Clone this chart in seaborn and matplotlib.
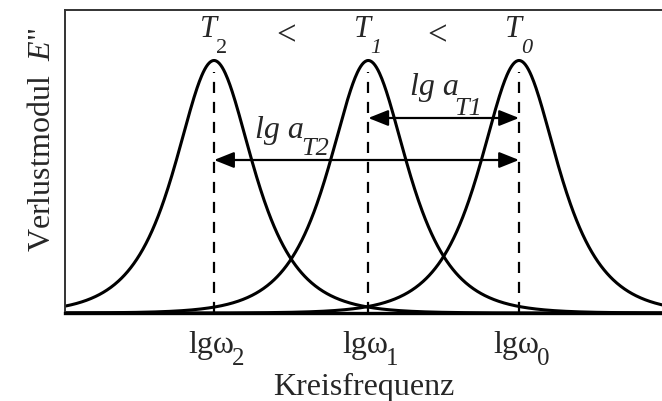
import numpy as np
import pandas as pd
import matplotlib
matplotlib.use("Agg")
import matplotlib.pyplot as plt
import seaborn as sns

# Loss peaks at three temperatures (position on lg ω axis, peak height)
temperatures = ["T0", "T1", "T2"]
peak_lgw = [13.1, 8.75, 4.3]
peak_height = [1.0, 1.0, 1.0]
tick_base = ["lgω", "lgω", "lgω"]
tick_sub = ["0", "1", "2"]
temp_sub = ["0", "1", "2"]
temp_sub_style = ["italic", "italic", "normal"]

sns.set_theme(style="white")
plt.rcParams["font.family"] = ["Liberation Serif", "DejaVu Serif"]
plt.rcParams["mathtext.fontset"] = "custom"
plt.rcParams["mathtext.rm"] = "Liberation Serif"
plt.rcParams["mathtext.it"] = "Liberation Serif:italic"

# Debye-type loss peak: E'' ~ sech(ln(ω τ))
lgw = np.linspace(0, 17.6, 800)
frames = []
for name, c, h in zip(temperatures, peak_lgw, peak_height):
    frames.append(pd.DataFrame({"lgw": lgw, "E2": h / np.cosh(lgw - c), "T": name}))
data = pd.concat(frames, ignore_index=True)

W, H = 662, 401
fig = plt.figure(figsize=(W / 100, H / 100), dpi=100)
ax = fig.add_axes([65 / W, 88 / H, 610 / W, 303 / H])

sns.lineplot(data=data, x="lgw", y="E2", units="T", estimator=None,
             color="black", lw=2.2, ax=ax, legend=False)

ax.set_xlim(0, 17.6)
ax.set_ylim(0, 1.2)
PX = 17.6 / 610      # data units per pixel, x
PY = 1.2 / 303       # data units per pixel, y
PT = 0.72            # points per pixel


def with_sub(x, y, base, sub, size, subsize, drop, gap=0.0, style="normal",
             substyle=None, ha="left"):
    """Draw base text on a baseline at (x, y) followed by a lowered subscript."""
    t = ax.text(x, y, base, fontsize=size, style=style, ha=ha, va="baseline",
                clip_on=False)
    ax.annotate(sub, xy=(1, y), xycoords=(t, "data"),
                xytext=(gap * PT, -drop * PT), textcoords="offset points",
                fontsize=subsize, style=substyle or style,
                ha="left", va="baseline", annotation_clip=False)
    return t


# dashed markers at the peak positions
for c, h in zip(peak_lgw, peak_height):
    ax.plot([c, c], [0, h * 0.955], color="black", lw=1.6, ls=(0, (5, 4)))

ax.set_xticks(peak_lgw)
ax.set_xticklabels([""] * len(peak_lgw))
ax.tick_params(axis="x", length=0)
ax.set_yticks([])

# frequency labels under each peak
for c, b, s in zip(peak_lgw, tick_base, tick_sub):
    with_sub(c - 26 * PX, -40 * PY, b, s, 23, 18, drop=12, gap=-2)

ax.set_xlabel("Kreisfrequenz", fontsize=23)
ax.xaxis.label.set_va("baseline")
ax.xaxis.set_label_coords((364 - 65) / 610, (313 - 395) / 303)
ax.set_ylabel("Verlustmodul  $E$\"", fontsize=23)
ax.yaxis.label.set_va("baseline")
ax.yaxis.set_label_coords((50 - 65) / 610, (313 - 140) / 303)

for side in ["top", "left"]:
    ax.spines[side].set_linewidth(1.4)
    ax.spines[side].set_color("#333333")
ax.spines["bottom"].set_linewidth(2.4)
ax.spines["bottom"].set_color("black")
ax.spines["right"].set_visible(False)

# horizontal shift arrows
arrow_kw = dict(arrowstyle="<|-|>,head_length=0.55,head_width=0.22", color="black",
                lw=1.6, mutation_scale=22, shrinkA=0, shrinkB=0)
y_t1 = (313 - 118) * PY
y_t2 = (313 - 160) * PY
ax.annotate("", xy=(peak_lgw[1], y_t1), xytext=(peak_lgw[0], y_t1), arrowprops=arrow_kw)
ax.annotate("", xy=(peak_lgw[2], y_t2), xytext=(peak_lgw[0], y_t2), arrowprops=arrow_kw)
with_sub((410 - 65) * PX, (313 - 95) * PY, "lg a", "T1", 23, 19, drop=20, gap=-5,
         style="italic")
with_sub((255 - 65) * PX, (313 - 138) * PY, "lg a", "T2", 23, 19, drop=17, gap=-3,
         style="italic")

# temperature ordering above the peaks
for c, s, st in zip(peak_lgw, temp_sub, temp_sub_style):
    with_sub(c + 3 * PX, (313 - 37) * PY, "T", s, 22, 16, drop=16, gap=-1,
             style="italic", substyle=st, ha="right")
for xm in [(286 - 65) * PX, (437 - 65) * PX]:
    ax.text(xm, (313 - 45) * PY, "<", fontsize=25, ha="center", va="baseline")

fig.savefig("out.png", dpi=100)
